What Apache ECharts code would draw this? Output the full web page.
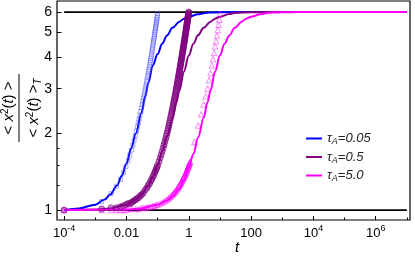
<!DOCTYPE html>
<html><head><meta charset="utf-8">
<script src="https://cdn.jsdelivr.net/npm/echarts@6/dist/echarts.min.js"></script>
<style>html,body{margin:0;padding:0;background:#fff}#c{width:415px;height:264px}</style>
</head><body><div id="c"></div>
<script>
// ---- axes / ticks ----
const xRange = [5.9e-5, 1.26e7];
const yRange = [0.914, 6.63];
const xTickValues = [1e-4, 1e-2, 1, 1e2, 1e4, 1e6];
const xTickLabels = ['10^-4', '0.01', '1', '100', '10^4', '10^6'];
const xMinorTickValues = [1e-3, 1e-1, 1e1, 1e3, 1e5, 1e7];
const yTickValues = [1, 2, 3, 4, 5, 6];
const yTickLabels = ['1', '2', '3', '4', '5', '6'];
const yMinorTickValues = [1.25, 1.5, 1.75];
const legendNames = ['τA=0.05', 'τA=0.5', 'τA=5.0'];
const refLevels = [1, 6];
const refT = [1e-4, 1e7];

// ---- theory curves (solid lines) ----
const blueLineT = [0.0001, 0.0003, 0.001, 0.002, 0.003, 0.005, 0.007, 0.01, 0.014, 0.02, 0.03, 0.04, 0.05, 0.07, 0.1, 0.14, 0.2, 0.3, 0.5, 0.7, 1, 2, 3, 5, 10, 30, 1e7];
const blueLineY = [1.0, 1.015, 1.05, 1.1, 1.15, 1.25, 1.36, 1.52, 1.74, 2.0, 2.4, 2.8, 3.15, 3.7, 4.1, 4.5, 4.85, 5.2, 5.5, 5.65, 5.75, 5.88, 5.94, 5.97, 5.99, 6.0, 6.0];
const purpleLineT = [0.0001, 0.001, 0.003, 0.01, 0.02, 0.03, 0.05, 0.07, 0.1, 0.14, 0.2, 0.3, 0.4, 0.5, 0.7, 1, 1.4, 2, 3, 5, 7, 10, 20, 30, 100, 300, 1e7];
const purpleLineY = [1.0, 1.005, 1.015, 1.05, 1.1, 1.15, 1.25, 1.35, 1.5, 1.7, 1.95, 2.3, 2.65, 2.95, 3.5, 4.05, 4.5, 4.87, 5.2, 5.5, 5.65, 5.75, 5.9, 5.95, 5.99, 6.0, 6.0];
const magentaLineT = [0.0001, 0.01, 0.03, 0.1, 0.2, 0.3, 0.5, 0.7, 1, 1.4, 2, 3, 4, 5, 7, 10, 14, 20, 30, 50, 70, 100, 200, 300, 500, 1000, 3000, 1e7];
const magentaLineY = [1.0, 1.005, 1.015, 1.05, 1.09, 1.13, 1.21, 1.31, 1.47, 1.66, 1.93, 2.3, 2.65, 2.95, 3.5, 4.05, 4.5, 4.85, 5.2, 5.5, 5.65, 5.75, 5.88, 5.94, 5.97, 5.99, 6.0, 6.0];

// ---- simulation markers ----
const blueSimT = [0.0001, 0.0016, 0.0032, 0.0048, 0.0064, 0.008, 0.0096, 0.0112, 0.0128, 0.0144, 0.016, 0.0176, 0.0192, 0.0208, 0.0224, 0.024, 0.0256, 0.0272, 0.0288, 0.0304, 0.032, 0.0336, 0.0352, 0.0368, 0.0384, 0.04, 0.0416, 0.0432, 0.0448, 0.0464, 0.048, 0.0496, 0.0512, 0.0528, 0.0544, 0.056, 0.0576, 0.0592, 0.0608, 0.0624, 0.064, 0.0656, 0.0672, 0.0688, 0.0704, 0.072, 0.0736, 0.0752, 0.0768, 0.0784, 0.08, 0.0816, 0.0832, 0.0848, 0.0864, 0.088, 0.0896, 0.0912, 0.0928, 0.0944, 0.096, 0.0976, 0.0992];
const blueSimY = [1.0, 1.08, 1.16, 1.24, 1.32, 1.4, 1.48, 1.56, 1.64, 1.72, 1.8, 1.88, 1.96, 2.04, 2.12, 2.2, 2.28, 2.36, 2.44, 2.52, 2.6, 2.68, 2.76, 2.83, 2.9, 2.97, 3.05, 3.12, 3.2, 3.27, 3.35, 3.42, 3.5, 3.57, 3.65, 3.72, 3.8, 3.87, 3.95, 4.02, 4.1, 4.18, 4.26, 4.34, 4.42, 4.5, 4.58, 4.66, 4.74, 4.82, 4.9, 4.98, 5.06, 5.14, 5.22, 5.3, 5.38, 5.46, 5.54, 5.62, 5.7, 5.8, 5.92];
const purpleSimT = [0.0001, 0.0016, 0.0032, 0.0048, 0.0064, 0.008, 0.0096, 0.0112, 0.0128, 0.0144, 0.016, 0.018, 0.02, 0.022, 0.025, 0.028, 0.031, 0.035, 0.04, 0.045, 0.05, 0.055, 0.06, 0.065, 0.07, 0.075, 0.08, 0.085, 0.09, 0.095,
  0.1, 0.11, 0.12, 0.13, 0.14, 0.15, 0.16, 0.17, 0.18, 0.19, 0.2, 0.21, 0.22, 0.23, 0.24, 0.25, 0.26, 0.27, 0.28, 0.29, 0.3, 0.31, 0.32, 0.33, 0.34, 0.35, 0.36, 0.37, 0.38, 0.39, 0.4, 0.41, 0.42, 0.43, 0.44, 0.45, 0.46, 0.47, 0.48, 0.49, 0.5,
  0.51, 0.52, 0.53, 0.54, 0.55, 0.56, 0.57, 0.58, 0.59, 0.6, 0.61, 0.62, 0.63, 0.64, 0.65, 0.66, 0.67, 0.68, 0.69, 0.7, 0.71, 0.72, 0.73, 0.74, 0.75, 0.76, 0.77, 0.78, 0.79, 0.8,
  0.81, 0.82, 0.83, 0.84, 0.85, 0.86, 0.87, 0.88, 0.89, 0.9, 0.91, 0.92, 0.93, 0.94, 0.95, 0.96, 0.97, 0.98, 0.99, 1.0];
const purpleSimY = [1.0, 1.01, 1.02, 1.02, 1.03, 1.04, 1.05, 1.06, 1.06, 1.07, 1.08, 1.09, 1.1, 1.11, 1.12, 1.14, 1.15, 1.17, 1.2, 1.22, 1.25, 1.27, 1.3, 1.32, 1.35, 1.37, 1.4, 1.42, 1.45, 1.47,
  1.5, 1.55, 1.6, 1.65, 1.7, 1.75, 1.8, 1.85, 1.9, 1.95, 2.0, 2.05, 2.1, 2.15, 2.2, 2.25, 2.3, 2.35, 2.4, 2.45, 2.5, 2.55, 2.6, 2.65, 2.7, 2.75, 2.8, 2.85, 2.9, 2.95, 3.0, 3.05, 3.1, 3.15, 3.2, 3.25, 3.3, 3.35, 3.4, 3.45, 3.5,
  3.55, 3.6, 3.65, 3.7, 3.75, 3.8, 3.85, 3.9, 3.95, 4.0, 4.05, 4.1, 4.15, 4.2, 4.25, 4.3, 4.35, 4.4, 4.45, 4.5, 4.55, 4.6, 4.65, 4.7, 4.75, 4.8, 4.85, 4.9, 4.95, 5.0,
  5.05, 5.1, 5.15, 5.2, 5.25, 5.3, 5.35, 5.4, 5.45, 5.5, 5.55, 5.6, 5.65, 5.7, 5.75, 5.8, 5.85, 5.9, 5.95, 6.0];
const magentaSimT = [0.0001, 0.0016, 0.0032, 0.0048, 0.0064, 0.008, 0.0096, 0.012, 0.015, 0.02, 0.025, 0.03, 0.035, 0.04, 0.045, 0.05, 0.06, 0.07, 0.08, 0.09, 0.1,
  0.12, 0.14, 0.16, 0.18, 0.2, 0.22, 0.24, 0.26, 0.28, 0.3, 0.32, 0.34, 0.36, 0.38, 0.4, 0.42, 0.44, 0.46, 0.48, 0.5, 0.52, 0.54, 0.56, 0.58, 0.6,
  0.62, 0.64, 0.66, 0.68, 0.7, 0.72, 0.74, 0.76, 0.78, 0.8, 0.82, 0.84, 0.86, 0.88, 0.9, 0.92, 0.94, 0.96, 0.98, 1.0, 1.02, 1.04, 1.06, 1.08, 1.1,
  1.5, 2, 2.5, 3, 3.5, 4, 4.5, 5, 5.5, 6, 6.5, 7, 7.5, 8, 8.5, 9, 9.5, 10];
const magentaSimY = [1.0, 1.0, 1.0, 1.0, 1.0, 1.0, 1.0, 1.01, 1.01, 1.01, 1.01, 1.02, 1.02, 1.02, 1.02, 1.03, 1.03, 1.04, 1.04, 1.05, 1.05,
  1.06, 1.07, 1.08, 1.09, 1.1, 1.11, 1.12, 1.13, 1.14, 1.15, 1.16, 1.17, 1.18, 1.19, 1.2, 1.21, 1.22, 1.23, 1.24, 1.25, 1.26, 1.27, 1.28, 1.29, 1.3,
  1.31, 1.32, 1.33, 1.34, 1.35, 1.36, 1.37, 1.38, 1.39, 1.4, 1.41, 1.42, 1.43, 1.44, 1.45, 1.46, 1.47, 1.48, 1.49, 1.5, 1.51, 1.52, 1.53, 1.54, 1.55,
  1.85, 2.15, 2.38, 2.6, 2.8, 3.0, 3.24, 3.45, 3.7, 3.92, 4.15, 4.4, 4.6, 4.85, 5.1, 5.35, 5.6, 5.9];

const FONT = "'Liberation Sans', Arial, sans-serif";
const L = Math.log10;
const pts = (ts, ys) => ts.map((t, i) => [L(t), L(ys[i])]);

const chart = echarts.init(document.getElementById('c'), null, {renderer: 'canvas'});

const xLabelText = v => {
  const i = xTickValues.findIndex(t => Math.abs(L(t) - v) < 1e-6);
  if (i < 0) return '';
  return xTickLabels[i].replace(/\^(.+)$/, '{sup|$1}');
};
const yLabelText = v => {
  const i = yTickValues.findIndex(t => Math.abs(L(t) - v) < 1e-6);
  return i < 0 ? '' : yTickLabels[i];
};

const baseX = {
  type: 'value', gridIndex: 0, position: 'bottom', min: L(xRange[0]), max: L(xRange[1]),
  axisLine: {show: false, onZero: false}, splitLine: {show: false}
};
const baseY = {
  type: 'value', gridIndex: 0, position: 'left', min: L(yRange[0]), max: L(yRange[1]),
  axisLine: {show: false, onZero: false}, splitLine: {show: false}
};

const lineSeries = (name, ts, ys, color) => ({
  name, type: 'line', data: pts(ts, ys), showSymbol: false, symbol: 'none',
  smooth: 0.35, smoothMonotone: 'x', lineStyle: {color, width: 2}, itemStyle: {color}, z: 3, animation: false
});
const simSeries = (name, ts, ys, symbol, size, fill, stroke, z) => ({
  name, type: 'scatter', data: pts(ts, ys), symbol, symbolSize: size,
  itemStyle: {color: fill, borderColor: stroke, borderWidth: 1}, z, animation: false
});

chart.setOption({
  animation: false,
  backgroundColor: '#fff',
  grid: {left: 57, top: 1, width: 353, height: 219, show: true, borderColor: '#000', borderWidth: 1.2, backgroundColor: 'transparent'},
  xAxis: [
    Object.assign({}, baseX, {
      axisTick: {show: true, inside: true, length: 4, customValues: xTickValues.map(L), lineStyle: {color: '#000', width: 1}},
      axisLabel: {show: true, customValues: xTickValues.map(L), formatter: xLabelText, margin: 4,
        fontSize: 13, lineHeight: 18, fontFamily: FONT, color: '#000',
        rich: {sup: {fontSize: 9, lineHeight: 10, verticalAlign: 'top', fontFamily: FONT, color: '#000'}}}
    }),
    Object.assign({}, baseX, {
      axisTick: {show: true, inside: true, length: 2.5, customValues: xMinorTickValues.map(L), lineStyle: {color: '#000', width: 1}},
      axisLabel: {show: false}
    })
  ],
  yAxis: [
    Object.assign({}, baseY, {
      axisTick: {show: true, inside: true, length: 4.5, customValues: yTickValues.map(L), lineStyle: {color: '#000', width: 1}},
      axisLabel: {show: true, customValues: yTickValues.map(L), formatter: yLabelText, margin: 5,
        fontSize: 14, fontFamily: FONT, color: '#000'}
    }),
    Object.assign({}, baseY, {
      axisTick: {show: true, inside: true, length: 2.5, customValues: yMinorTickValues.map(L), lineStyle: {color: '#000', width: 1}},
      axisLabel: {show: false}
    })
  ],
  legend: {
    data: legendNames, orient: 'vertical', left: 306, top: 131, itemWidth: 16, itemHeight: 2, itemGap: 3.5,
    icon: 'rect', padding: 0,
    formatter: n => n.replace(/^τA(.*)$/, '{t|τ}{s|A}{t|$1}'),
    textStyle: {fontSize: 13, lineHeight: 15, color: '#222', fontFamily: FONT,
      rich: {t: {fontSize: 13, fontStyle: 'italic', fontFamily: FONT, color: '#222'},
             s: {fontSize: 9, fontStyle: 'italic', verticalAlign: 'bottom', lineHeight: 13, fontFamily: FONT, color: '#222'}}}
  },
  graphic: [
    {type: 'group', x: 19, y: 108, rotation: Math.PI / 2, children: [
      {type: 'text', x: 0, y: -10, style: {
        text: '{n|< }{i|x}{sup|2}{n|(}{i|t}{n|) >}', align: 'center', verticalAlign: 'middle', textAlign: 'center', textVerticalAlign: 'middle',
        rich: {n: {fontSize: 15, fontFamily: FONT, fill: '#000', lineHeight: 18},
               i: {fontSize: 15, fontStyle: 'italic', fontFamily: FONT, fill: '#000', lineHeight: 18},
               sup: {fontSize: 10, fontFamily: FONT, fill: '#000', verticalAlign: 'top', lineHeight: 11}}}},
      {type: 'line', shape: {x1: -34, y1: 0, x2: 34, y2: 0}, style: {stroke: '#000', lineWidth: 1}},
      {type: 'text', x: 0, y: 15, style: {
        text: '{n|< }{i|x}{sup|2}{n|(}{i|t}{n|) >}{sub|T}', align: 'center', verticalAlign: 'middle', textAlign: 'center', textVerticalAlign: 'middle',
        rich: {n: {fontSize: 15, fontFamily: FONT, fill: '#000', lineHeight: 18},
               i: {fontSize: 15, fontStyle: 'italic', fontFamily: FONT, fill: '#000', lineHeight: 18},
               sup: {fontSize: 10, fontFamily: FONT, fill: '#000', verticalAlign: 'top', lineHeight: 11},
               sub: {fontSize: 10, fontStyle: 'italic', fontFamily: FONT, fill: '#000', verticalAlign: 'bottom', lineHeight: 11}}}}
    ]},
    {type: 'text', x: 237, y: 248, style: {text: 't', font: "italic 15px " + FONT, fill: '#000', align: 'center', verticalAlign: 'middle', textAlign: 'center', textVerticalAlign: 'middle'}}
  ],
  series: [
    {name: 'ref1', type: 'line', data: refT.map(t => [L(t), L(refLevels[0])]), showSymbol: false, symbol: 'none', lineStyle: {color: '#000', width: 1.8}, z: 1, silent: true},
    {name: 'ref6', type: 'line', data: refT.map(t => [L(t), L(refLevels[1])]), showSymbol: false, symbol: 'none', lineStyle: {color: '#000', width: 1.8}, z: 1, silent: true},
    lineSeries(legendNames[0], blueLineT, blueLineY, '#0000ff'),
    lineSeries(legendNames[1], purpleLineT, purpleLineY, '#800080'),
    lineSeries(legendNames[2], magentaLineT, magentaLineY, '#ff00ff'),
    simSeries('sim005', blueSimT, blueSimY, 'rect', 4, 'rgba(0,0,0,0)', 'rgba(80,80,255,0.6)', 4),
    simSeries('sim05', purpleSimT, purpleSimY, 'circle', 6, 'rgba(128,0,128,0.45)', 'rgba(128,0,128,0.85)', 4),
    simSeries('sim50', magentaSimT, magentaSimY, 'triangle', 5.5, 'rgba(0,0,0,0)', 'rgba(255,0,255,0.6)', 4)
  ]
});
</script></body></html>
